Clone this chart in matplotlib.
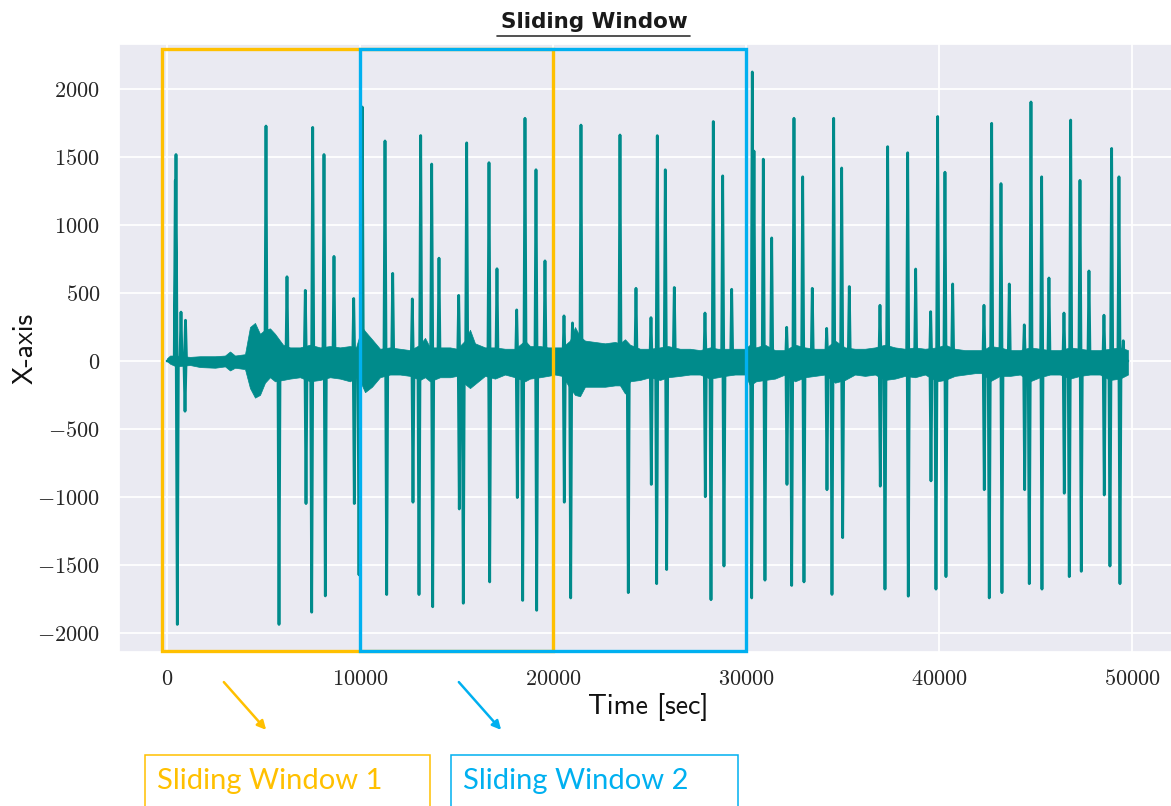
import numpy as np
import matplotlib.pyplot as plt
import seaborn as sns
from matplotlib.patches import Rectangle, FancyArrowPatch
from matplotlib.lines import Line2D
from matplotlib.transforms import blended_transform_factory
from matplotlib.ticker import FuncFormatter

# spike extremes of the recording (time [sec], amplitude)
peak_time = [430, 466, 534, 725, 933, 958, 5129, 5803, 6217, 7165, 7202, 7497, 7549, 8134, 8202, 8652, 9673, 9704,
             9948, 10118, 11295, 11383, 11694, 12709, 12745, 13056, 13144, 13714, 13766, 14092, 15113, 15144,
             15351, 15527, 16683, 16719, 17097, 18118, 18149, 18429, 18548, 19118, 19154, 19584,
             20569, 20584, 20916, 21009, 21449, 23470, 23900, 24299, 25076, 25092, 25371, 25402, 25817, 25889,
             26284, 27874, 27890, 28185, 28304, 28791, 28858, 29257,
             30293, 30325, 30412, 30895, 30982, 31330, 32107, 32122, 32366, 32485, 32936, 33003, 33433, 34179,
             34195, 34454, 34542, 34956, 35008, 35350, 36941, 36956, 37200, 37339, 38376, 38407, 38790, 39567,
             39583, 39842, 39930, 40308, 40360, 40707,
             42329, 42344, 42603, 42728, 43210, 43261, 43640, 44417, 44438, 44676, 44764, 45318, 45334, 45696,
             46474, 46489, 46748, 46821, 47303, 47370, 47769, 48546, 48561, 48857, 48944, 49323, 49375, 49546]
peak_value = [1330, 1520, -1940, 360, -370, 300, 1730, -1940, 620, 520, -1050, -1850, 1720, 1520, -1730, 770, 460, -1050,
              -1575, 1870, 1620, -1720, 645, 457, -1040, -1720, 1660, 1450, -1810, 757, 483, -1090,
              -1784, 1606, 1460, -1627, 679, 376, -1006, -1763, 1787, 1408, -1836, 737,
              332, -1040, -1745, 280, 1737, 1664, -1706, 535, 319, -909, -1640, 1659, 1408, -1536,
              541, 353, -1000, -1758, 1763, 1363, -1510, 528,
              -1745, 2128, 1546, 1486, -1614, 906, 248, -909, -1653, 1787, 1356, -1627, 535, 240,
              -948, -1719, 1787, 1421, -1301, 548, 410, -922, -1680, 1578, 1533, -1732, 677, 363,
              -883, -1680, 1800, 1390, -1588, 567,
              410, -948, -1745, 1750, 1306, -1706, 567, 266, -948, -1640, 1907, 1356, -1680, 611,
              353, -974, -1588, 1774, 1330, -1549, 663, 337, -987, -1510, 1565, 1356, -1640, 149]

# envelope of the background activity between spikes
noise_time = [0, 155, 466, 1192, 1710, 2487, 3005, 3264, 3523, 4041, 4300, 4559, 4818, 5077, 5336, 5595, 6010,
              6373, 6891, 7409, 7927, 8445, 8963, 9481, 9792,
              10103, 10258, 10621, 11036, 11554, 12072, 12590, 13108, 13367, 13626, 14144, 14662, 15025, 15439,
              15698, 15957, 16476, 16994, 17512, 18030, 18548, 18807, 19325, 19740,
              20102, 20465, 20879, 21138, 21398, 21657, 22175, 22693, 23211, 23470, 23729, 23988, 24506, 25024,
              25542, 25957, 26579, 27097, 27615, 28133, 28547, 28910, 29428, 29946,
              30205, 30516, 30982, 31500, 32019, 32537, 33055, 33573, 34091, 34609, 35127, 35645, 36163, 36681,
              37200, 37718, 38236, 38754, 39272, 39894, 40308, 40826, 41344, 41862, 42277,
              42640, 43158, 43676, 44194, 44712, 45230, 45748, 46266, 46784, 47303, 47821, 48339, 48857, 49375,
              49790]
noise_high = [20, 40, 40, 30, 35, 35, 40, 70, 40, 50, 250, 280, 200, 230, 240, 200, 120, 100, 100, 120, 100, 110,
              100, 110, 100,
              250, 220, 160, 90, 100, 90, 80, 120, 170, 100, 100, 100, 90, 150, 230, 130, 100, 100, 90, 90, 150,
              110, 110, 100,
              100, 100, 150, 250, 180, 150, 140, 130, 140, 130, 160, 120, 90, 90, 100, 110, 90, 90, 80, 100, 90,
              90, 90, 90,
              120, 100, 120, 80, 80, 120, 100, 90, 90, 150, 100, 90, 90, 100, 120, 100, 90, 100, 90, 100, 120,
              90, 80, 80, 80,
              110, 100, 80, 80, 100, 90, 80, 80, 100, 90, 80, 80, 90, 100, 80]
noise_low = [0, -20, -40, -30, -45, -50, -40, -70, -50, -60, -200, -270, -250, -160, -120, -150, -140, -130, -120,
             -150, -140, -120, -130, -150, -120,
             -180, -230, -190, -120, -100, -100, -110, -140, -120, -150, -120, -120, -110, -170, -200, -170,
             -110, -130, -100, -120, -150, -130, -120, -110,
             -100, -110, -200, -250, -260, -190, -190, -190, -180, -180, -240, -150, -140, -120, -140, -120,
             -110, -100, -100, -130, -120, -110, -100, -100,
             -180, -150, -140, -130, -100, -150, -120, -110, -100, -160, -140, -100, -110, -100, -140, -130,
             -110, -120, -100, -150, -140, -110, -100, -90, -90,
             -150, -110, -110, -100, -150, -120, -100, -100, -130, -110, -100, -100, -140, -130, -100]

windows = [(0, 20000), (10000, 30000)]
window_labels = ['Sliding Window 1', 'Sliding Window 2']
window_colors = ['#FFC000', '#00B0F0']

sns.set_theme(style='darkgrid')
plt.rcParams['mathtext.fontset'] = 'cm'

W, H = 1171, 806
fig = plt.figure(figsize=(W / 100, H / 100), dpi=100)
ax = fig.add_axes([118.75 / W, 1 - 652 / H, 1059.6 / W, 607.6 / H])

# spikes as narrow excursions from the baseline
order = np.argsort(peak_time)
half = 55
xs, ys = [0], [0]
for i in order:
    t, v = peak_time[i], peak_value[i]
    xs += [t - half, t, t + half]
    ys += [0, v, 0]
xs.append(noise_time[-1])
ys.append(0)

ax.fill_between(noise_time, noise_low, noise_high, color='darkcyan', lw=0.5)
ax.plot(xs, ys, color='darkcyan', lw=2.0)

ax.set_xlim(-2500, 52400)
ax.set_ylim(-2143, 2331)
ax.set_xticks(range(0, 50001, 10000))
ax.set_yticks(range(-2000, 2001, 500))
fmt = FuncFormatter(lambda v, p: r'$%d$' % v)
ax.xaxis.set_major_formatter(fmt)
ax.yaxis.set_major_formatter(fmt)
ax.tick_params(axis='y', labelsize=16, pad=7.5, labelcolor='#262626')
ax.tick_params(axis='x', labelsize=16, pad=6, labelcolor='#262626')
ax.grid(color='white', lw=1.3)

ax.set_xlabel('Time [sec]', fontfamily='cmss10', fontsize=20, labelpad=3, color='#111111')
ax.set_ylabel('X-axis', fontfamily='cmss10', fontsize=20, labelpad=0, color='#111111')

# window frames spanning the full height
trans = blended_transform_factory(ax.transData, ax.transAxes)
for (x0, x1), col, z in zip(windows, window_colors, [5, 6]):
    ax.add_patch(Rectangle((x0 - 250 if x0 == 0 else x0, 0.002), x1 - x0 + (250 if x0 == 0 else 0), 0.99,
                           transform=trans, fill=False, ec=col, lw=2.4, clip_on=False, zorder=z))

# title with underline
fig.text(594 / W, 1 - 28 / H, 'Sliding Window', ha='center', va='baseline',
         fontsize=15.5, fontweight='bold', family='DejaVu Sans', color='#1a1a1a')
fig.add_artist(Line2D([497 / W, 690 / W], [1 - 36 / H] * 2, color='#333333', lw=1.2))

# callouts under the axis
arrows = [((222, 680), (268, 732)), ((457, 680), (503, 732))]
boxes = [(145, 430), (451, 738)]
for (p0, p1), (bx0, bx1), col, lab in zip(arrows, boxes, window_colors, window_labels):
    fig.add_artist(FancyArrowPatch((p0[0] / W, 1 - p0[1] / H), (p1[0] / W, 1 - p1[1] / H),
                                   transform=fig.transFigure, arrowstyle='-|>', mutation_scale=13,
                                   lw=1.8, color=col))
    fig.add_artist(Rectangle((bx0 / W, -0.02), (bx1 - bx0) / W, 0.02 + 1 - 755 / H,
                             transform=fig.transFigure, fill=False, ec=col, lw=1.1))
    fig.text((bx0 + 12) / W, 1 - 781 / H, lab, va='center', ha='left', color=col,
             fontsize=21, family='Lato')

fig.savefig('out.png', dpi=100)
